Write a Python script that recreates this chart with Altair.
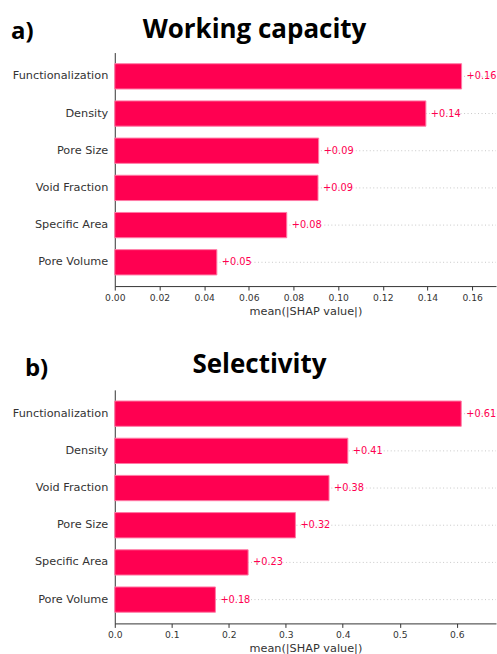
import altair as alt
import pandas as pd

# ---- data ----
wc_features = ["Functionalization", "Density", "Pore Size", "Void Fraction", "Specific Area", "Pore Volume"]
wc_values = [0.1553, 0.1393, 0.0913, 0.0910, 0.0770, 0.0457]
wc_ticks = [0.00, 0.02, 0.04, 0.06, 0.08, 0.10, 0.12, 0.14, 0.16]

sel_features = ["Functionalization", "Density", "Void Fraction", "Pore Size", "Specific Area", "Pore Volume"]
sel_values = [0.608, 0.409, 0.376, 0.317, 0.234, 0.1766]
sel_ticks = [0.0, 0.1, 0.2, 0.3, 0.4, 0.5, 0.6]

panel_letters = ["a)", "b)"]
panel_titles = ["Working capacity", "Selectivity"]
x_title = "mean(|SHAP value|)"

RED = "#ff0051"
W, H = 382, 234
FONT = "DejaVu Sans"
TFONT = "Open Sans"


def panel(features, values, ticks, dmax, fmt, letter, title, lx, ly, tx, ty, anchor=False):
    df = pd.DataFrame({"feature": features, "value": values})
    base = alt.Chart(df)
    yenc = alt.Y("feature:N", sort=features, title=None,
                 scale=alt.Scale(paddingInner=0.32, paddingOuter=0.3),
                 axis=alt.Axis(ticks=False, labelPadding=7, labelFontSize=11.3,
                               labelFont=FONT, labelColor="#333333",
                               domainColor="#333333", domainWidth=1))
    xscale = alt.Scale(domain=[0, dmax], nice=False, zero=True)
    xaxis = alt.Axis(values=ticks, format=fmt, grid=False, tickSize=4, tickColor="#333333",
                     labelFontSize=9.2, labelFont=FONT, labelColor="#333333", labelPadding=3,
                     domainColor="#333333", title=x_title, titleFont=FONT, titleFontSize=11.3,
                     titleFontWeight="normal", titleColor="#333333", titlePadding=3,
                     labelFlush=False)
    grid = base.mark_rule(color="#c8c8c8", strokeDash=[1, 2.5], strokeWidth=1).encode(
        y=yenc, x=alt.value(0), x2=alt.value(W))
    bars = base.mark_bar(color=RED, stroke="#ff7aa6", strokeWidth=1).encode(
        y=yenc, x=alt.X("value:Q", scale=xscale, axis=xaxis))
    labels = base.mark_text(align="left", baseline="middle", dx=5, color=RED,
                            font=FONT, fontSize=9.8).encode(
        y=alt.Y("feature:N", sort=features),
        x=alt.X("value:Q"), text=alt.Text("value:Q", format="+.2f"))
    tdf = pd.DataFrame({"letter": [letter], "title": [title]})
    let = alt.Chart(tdf).mark_text(align="left", baseline="alphabetic", font=TFONT,
                                   fontWeight="bold", fontSize=24, color="#000000").encode(
        x=alt.value(lx), y=alt.value(ly), text="letter:N")
    tit = alt.Chart(tdf).mark_text(align="center", baseline="alphabetic", font=TFONT,
                                   fontWeight="bold", fontSize=26, color="#000000").encode(
        x=alt.value(tx), y=alt.value(ty), text="title:N")
    layers = [grid, bars, labels, let, tit]
    if anchor:
        anc = alt.Chart(tdf).mark_square(size=1, opacity=0).encode(
            x=alt.value(-114.5), y=alt.value(-51.5))
        layers.append(anc)
    return alt.layer(*layers).properties(width=W, height=H)


top = panel(wc_features, wc_values, wc_ticks, 0.1707, ".2f",
            panel_letters[0], panel_titles[0], -104, -14, 140, -15, anchor=True)
bottom = panel(sel_features, sel_values, sel_ticks, 0.669, ".1f",
               panel_letters[1], panel_titles[1], -90, -14, 145, -17)

chart = alt.vconcat(top, bottom, spacing=104, bounds="flush").properties(
    padding=0, background="white"
).configure_view(stroke=None)

chart.save("out.html", embed_options={"renderer": "svg", "actions": False})
